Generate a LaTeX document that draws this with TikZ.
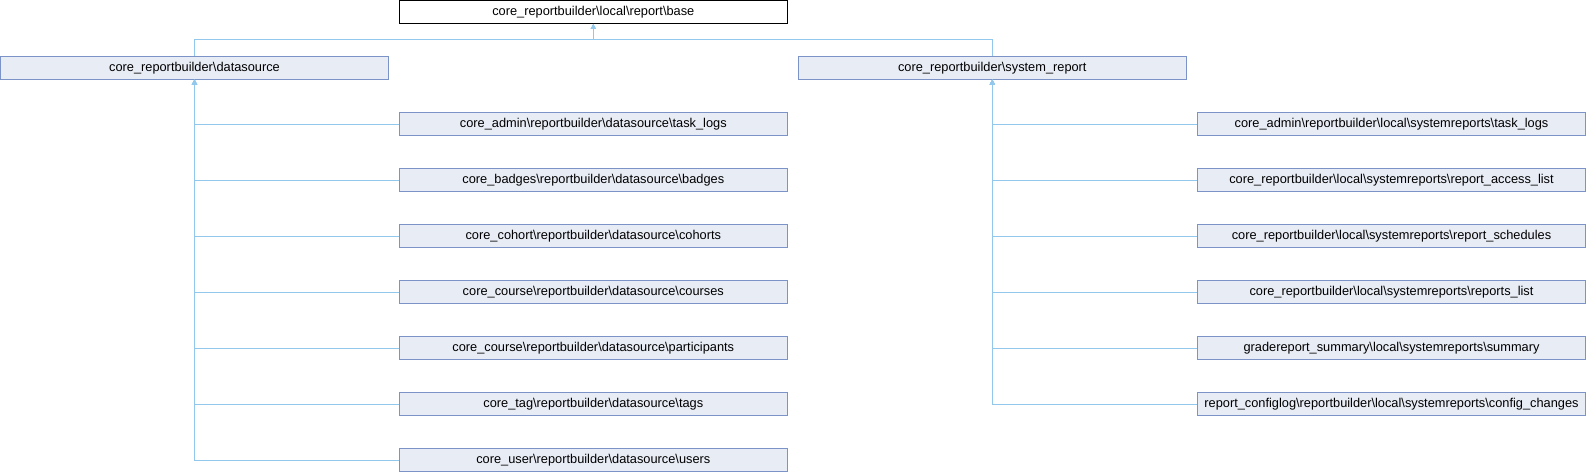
\documentclass[tikz,border=0pt]{standalone}
\usepackage{fontspec}
\setmainfont{Liberation Sans}
\usetikzlibrary{arrows.meta}
\definecolor{boxfill}{HTML}{E8ECF5}
\definecolor{boxdraw}{HTML}{7B93C6}
\definecolor{edgec}{HTML}{91C8EC}
\newcommand\myBS{\textbackslash}
\begin{document}
\begin{tikzpicture}[x=1pt,y=-1pt,
  cls/.style={draw=boxdraw, fill=boxfill, line width=1pt, minimum width=388pt, minimum height=22.6pt, inner sep=0pt, font=\fontsize{12.8}{14}\selectfont},
  basecls/.style={cls, draw=black, fill=white},
  edge/.style={draw=edgec, line width=1pt, -{Triangle[width=5pt,length=5pt]}}
]
\useasboundingbox (0,0) rectangle (1586,472);

\node[basecls] (base) at (593.3,12) {core\_reportbuilder\myBS local\myBS report\myBS base};
\node[cls] (ds) at (194.5,67.7) {core\_reportbuilder\myBS datasource};
\node[cls] (sr) at (992.3,67.7) {core\_reportbuilder\myBS system\_report};

\draw[edge] (ds.north) -- ++(0,-16) -| (base.south);
\draw[edge] (sr.north) -- ++(0,-16) -| (base.south);

\foreach \i/\txt in {
  1/core\_admin\myBS reportbuilder\myBS datasource\myBS task\_logs,
  2/core\_badges\myBS reportbuilder\myBS datasource\myBS badges,
  3/core\_cohort\myBS reportbuilder\myBS datasource\myBS cohorts,
  4/core\_course\myBS reportbuilder\myBS datasource\myBS courses,
  5/core\_course\myBS reportbuilder\myBS datasource\myBS participants,
  6/core\_tag\myBS reportbuilder\myBS datasource\myBS tags,
  7/core\_user\myBS reportbuilder\myBS datasource\myBS users}{
  \node[cls] (l\i) at (593.3,{124+56*(\i-1)}) {\txt};
  \draw[edge] (l\i.west) -| (ds.south);
}

\foreach \i/\txt in {
  1/core\_admin\myBS reportbuilder\myBS local\myBS systemreports\myBS task\_logs,
  2/core\_reportbuilder\myBS local\myBS systemreports\myBS report\_access\_list,
  3/core\_reportbuilder\myBS local\myBS systemreports\myBS report\_schedules,
  4/core\_reportbuilder\myBS local\myBS systemreports\myBS reports\_list,
  5/gradereport\_summary\myBS local\myBS systemreports\myBS summary,
  6/report\_configlog\myBS reportbuilder\myBS local\myBS systemreports\myBS config\_changes}{
  \node[cls] (r\i) at (1391.5,{124+56*(\i-1)}) {\txt};
  \draw[edge] (r\i.west) -| (sr.south);
}
\end{tikzpicture}
\end{document}
